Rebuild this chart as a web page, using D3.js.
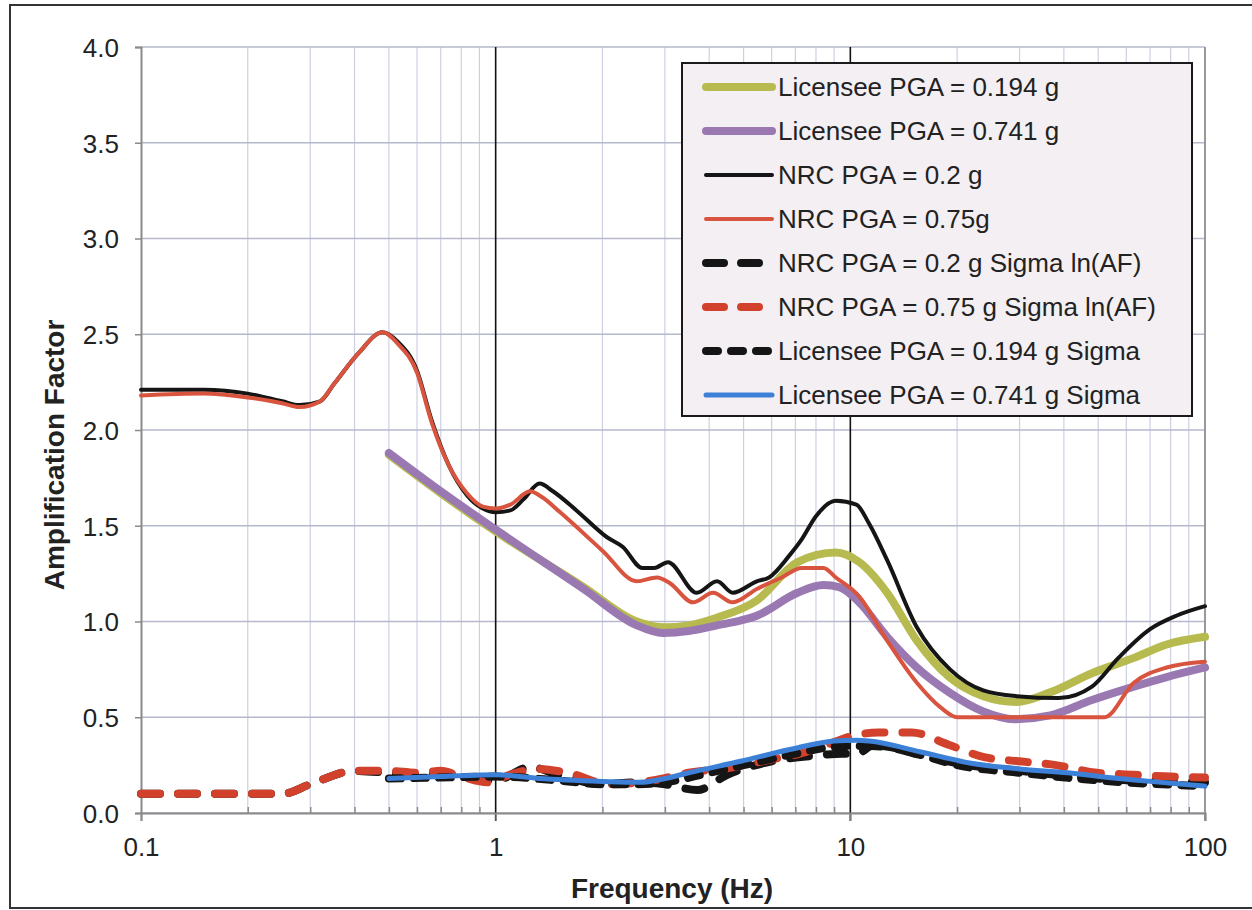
<!DOCTYPE html>
<html>
<head>
<meta charset="utf-8">
<script src="https://cdn.jsdelivr.net/npm/d3@7"></script>
<style>
  body { margin: 0; background: #fff; }
  text { font-family: "Liberation Sans", Arial, Helvetica, sans-serif; fill: #222; }
</style>
</head>
<body>
<svg id="chart"></svg>
<script>
/* data: frequency (Hz) and amplification factor */
var licLowFreq = [0.5, 0.7, 1.0, 1.77, 2.5, 3.0, 3.5, 4.2, 5.45, 7.1, 9.1, 10.6, 12.7, 15.4, 19, 23.7, 29.4, 36.6, 48, 63, 78, 100];
var licLowAmp  = [1.87, 1.67, 1.47, 1.18, 1.00, 0.97, 0.98, 1.02, 1.11, 1.31, 1.36, 1.31, 1.15, 0.90, 0.71, 0.61, 0.58, 0.63, 0.73, 0.81, 0.88, 0.92];

var licHighFreq = [0.5, 0.7, 1.0, 1.77, 2.5, 2.96, 3.5, 4.2, 5.45, 7.1, 8.4, 9.3, 10.6, 12.7, 15.4, 19, 23.7, 29, 36.6, 48, 63, 78, 100];
var licHighAmp  = [1.88, 1.68, 1.48, 1.17, 0.98, 0.94, 0.95, 0.98, 1.03, 1.15, 1.19, 1.18, 1.10, 0.92, 0.76, 0.63, 0.53, 0.49, 0.51, 0.59, 0.66, 0.71, 0.76];

var nrcLowFreq = [0.1, 0.15, 0.2, 0.25, 0.28, 0.32, 0.35, 0.41, 0.48, 0.53, 0.6, 0.66, 0.74, 0.83, 0.92, 1.0, 1.1, 1.2, 1.33, 1.45, 1.69, 2.06, 2.28, 2.59, 2.8, 3.06, 3.69, 4.21, 4.66, 5.45, 5.9, 6.7, 7.3, 8.0, 9.1, 10.4, 11.3, 12.7, 15.4, 19.1, 23.7, 29.4, 38.7, 48, 57, 70, 83, 100];
var nrcLowAmp  = [2.21, 2.21, 2.19, 2.15, 2.13, 2.15, 2.24, 2.40, 2.51, 2.46, 2.31, 2.05, 1.81, 1.66, 1.59, 1.57, 1.58, 1.64, 1.72, 1.68, 1.58, 1.44, 1.39, 1.28, 1.28, 1.31, 1.15, 1.21, 1.15, 1.21, 1.23, 1.34, 1.43, 1.55, 1.63, 1.61, 1.51, 1.32, 0.97, 0.75, 0.64, 0.61, 0.60, 0.66, 0.81, 0.96, 1.03, 1.08];

var nrcHighFreq = [0.1, 0.15, 0.2, 0.25, 0.28, 0.32, 0.35, 0.41, 0.48, 0.53, 0.6, 0.66, 0.74, 0.83, 0.92, 1.0, 1.1, 1.25, 1.35, 1.52, 2.0, 2.5, 2.85, 3.1, 3.6, 4.1, 4.66, 5.45, 6.4, 7.3, 8.4, 9.1, 10.6, 12.7, 15.4, 18, 20, 52, 63, 78, 100];
var nrcHighAmp  = [2.18, 2.19, 2.17, 2.14, 2.12, 2.15, 2.24, 2.40, 2.51, 2.45, 2.30, 2.04, 1.81, 1.67, 1.60, 1.59, 1.61, 1.68, 1.65, 1.57, 1.37, 1.21, 1.23, 1.20, 1.10, 1.15, 1.10, 1.17, 1.23, 1.28, 1.28, 1.23, 1.13, 0.90, 0.68, 0.55, 0.50, 0.50, 0.68, 0.76, 0.79];

var nrcLowSigFreq = [0.1, 0.25, 0.3, 0.4, 0.5, 0.6, 0.7, 0.8, 1.0, 1.25, 1.5, 2.0, 2.5, 3.0, 3.7, 4.5, 6, 8, 9.5, 10.5, 11.5, 13, 16, 20, 30, 50, 100];
var nrcLowSigAmp  = [0.10, 0.10, 0.15, 0.22, 0.21, 0.20, 0.21, 0.19, 0.17, 0.24, 0.20, 0.15, 0.16, 0.15, 0.12, 0.20, 0.27, 0.30, 0.31, 0.31, 0.35, 0.34, 0.30, 0.26, 0.22, 0.18, 0.16];

var nrcHighSigFreq = [0.1, 0.25, 0.3, 0.4, 0.5, 0.6, 0.7, 0.8, 0.95, 1.1, 1.3, 1.6, 2.1, 2.77, 3.5, 4.7, 6, 7.2, 9, 10, 12, 14.9, 19, 24, 30, 38, 49.5, 63, 80, 100];
var nrcHighSigAmp  = [0.10, 0.10, 0.15, 0.22, 0.22, 0.21, 0.22, 0.19, 0.16, 0.20, 0.23, 0.21, 0.15, 0.17, 0.21, 0.24, 0.28, 0.31, 0.37, 0.40, 0.42, 0.42, 0.355, 0.29, 0.27, 0.25, 0.21, 0.20, 0.19, 0.185];

var licLowSigFreq = [0.5, 0.7, 1.0, 1.5, 2.0, 2.5, 3.0, 4, 5, 7, 8.5, 10, 12, 16, 20, 30, 50, 100];
var licLowSigAmp  = [0.18, 0.185, 0.19, 0.17, 0.15, 0.15, 0.16, 0.21, 0.25, 0.31, 0.34, 0.35, 0.35, 0.30, 0.25, 0.21, 0.17, 0.14];

var licHighSigFreq = [0.5, 0.7, 1.0, 1.33, 2.0, 2.55, 3.0, 3.5, 4.9, 6.7, 9.0, 10.4, 11.3, 15.7, 21.9, 30, 41, 57, 79, 100];
var licHighSigAmp  = [0.18, 0.19, 0.20, 0.18, 0.165, 0.16, 0.18, 0.21, 0.27, 0.33, 0.376, 0.38, 0.376, 0.32, 0.26, 0.23, 0.21, 0.18, 0.157, 0.14];

var yTicks = [0, 0.5, 1.0, 1.5, 2.0, 2.5, 3.0, 3.5, 4.0];
var xTicks = [0.1, 1, 10, 100];
var xTickLabels = ["0.1", "1", "10", "100"];

var seriesNames = [
  "Licensee PGA = 0.194 g",
  "Licensee PGA = 0.741 g",
  "NRC PGA = 0.2 g",
  "NRC PGA = 0.75g",
  "NRC PGA = 0.2 g Sigma ln(AF)",
  "NRC PGA = 0.75 g Sigma ln(AF)",
  "Licensee PGA = 0.194 g Sigma",
  "Licensee PGA = 0.741 g Sigma"
];

var series = [
  { name: seriesNames[0], f: licLowFreq, v: licLowAmp, color: "#b7bb4f", w: 8, dash: null },
  { name: seriesNames[1], f: licHighFreq, v: licHighAmp, color: "#9a79b2", w: 8, dash: null },
  { name: seriesNames[2], f: nrcLowFreq, v: nrcLowAmp, color: "#151515", w: 4, dash: null },
  { name: seriesNames[3], f: nrcHighFreq, v: nrcHighAmp, color: "#d9543e", w: 4, dash: null },
  { name: seriesNames[4], f: nrcLowSigFreq, v: nrcLowSigAmp, color: "#151515", w: 8, dash: "19,18" },
  { name: seriesNames[5], f: nrcHighSigFreq, v: nrcHighSigAmp, color: "#d2412b", w: 8, dash: "19,18" },
  { name: seriesNames[6], f: licLowSigFreq, v: licLowSigAmp, color: "#151515", w: 8, dash: "12,13" },
  { name: seriesNames[7], f: licHighSigFreq, v: licHighSigAmp, color: "#3d80d8", w: 5, dash: null }
];

var W = 1252, H = 910;
var margin = { top: 47, right: 47, bottom: 97, left: 141 };
var width = W - margin.left - margin.right;
var height = H - margin.top - margin.bottom;

var svg = d3.select("#chart").attr("width", W).attr("height", H);

// outer frame
svg.append("rect")
   .attr("x", 10).attr("y", 5)
   .attr("width", W + 10).attr("height", 903)
   .attr("fill", "#fff")
   .attr("stroke", "#333")
   .attr("stroke-width", 2);

var g = svg.append("g").attr("transform", `translate(${margin.left}, ${margin.top})`);

var xScale = d3.scaleLog().domain([0.1, 100]).range([0, width]);
var yScale = d3.scaleLinear().domain([0, 4]).range([height, 0]);

// minor vertical grid
var minor = [];
[0.1, 1, 10].forEach(function(dec){
    for (var k = 2; k <= 9; k++) minor.push(dec * k);
});
g.append("g").selectAll("line")
 .data(minor)
 .join("line")
 .attr("x1", d => xScale(d)).attr("x2", d => xScale(d))
 .attr("y1", 0).attr("y2", height)
 .attr("stroke", "#cdd0e2")
 .attr("stroke-width", 1.2);

// horizontal grid
g.append("g").selectAll("line")
 .data(yTicks)
 .join("line")
 .attr("x1", 0).attr("x2", width)
 .attr("y1", d => yScale(d)).attr("y2", d => yScale(d))
 .attr("stroke", "#b6b9cc")
 .attr("stroke-width", 1.6);

// major decade lines
g.append("g").selectAll("line")
 .data([1, 10])
 .join("line")
 .attr("x1", d => xScale(d)).attr("x2", d => xScale(d))
 .attr("y1", 0).attr("y2", height + 8)
 .attr("stroke", "#111")
 .attr("stroke-width", 1.6);

// right edge
g.append("line")
 .attr("x1", width).attr("x2", width)
 .attr("y1", 0).attr("y2", height + 8)
 .attr("stroke", "#999")
 .attr("stroke-width", 2);

// axes
var yAxis = g.append("g")
   .call(d3.axisLeft(yScale).tickValues(yTicks).tickFormat(d3.format(".1f")).tickSize(6).tickPadding(16));
yAxis.select(".domain").attr("stroke", "#8a8a8a").attr("stroke-width", 2);
yAxis.selectAll(".tick line").attr("stroke", "#8a8a8a").attr("stroke-width", 1.5);
yAxis.selectAll("text").style("font-size", "26px").attr("fill", "#222").attr("dy", "0.36em");

var xAxis = g.append("g")
   .attr("transform", `translate(0, ${height})`)
   .call(d3.axisBottom(xScale).tickValues(xTicks).tickFormat((d, i) => xTickLabels[i]).tickSize(8).tickPadding(17));
xAxis.select(".domain").attr("stroke", "#8a8a8a").attr("stroke-width", 2);
xAxis.selectAll(".tick line").attr("stroke", "#8a8a8a").attr("stroke-width", 1.5);
xAxis.selectAll("text").style("font-size", "26px").attr("fill", "#222");

var xMinorAxis = g.append("g")
   .attr("transform", `translate(0, ${height})`)
   .call(d3.axisBottom(xScale).tickValues(minor).tickFormat("").tickSize(-6));
xMinorAxis.select(".domain").remove();
xMinorAxis.selectAll(".tick line").attr("stroke", "#8a8a8a").attr("stroke-width", 1.5);

// axis titles
svg.append("text")
   .attr("x", 672).attr("y", 898)
   .attr("text-anchor", "middle")
   .style("font-size", "28px").style("font-weight", "bold")
   .text("Frequency (Hz)");

svg.append("text")
   .attr("transform", "translate(64, 455) rotate(-90)")
   .attr("text-anchor", "middle")
   .style("font-size", "28px").style("font-weight", "bold")
   .text("Amplification Factor");

// curves
var line = d3.line()
   .x(d => xScale(d[0]))
   .y(d => yScale(d[1]))
   .curve(d3.curveMonotoneX);

var curves = g.append("g");
series.forEach(function(s){
    var pts = s.f.map((f, i) => [f, s.v[i]]);
    curves.append("path")
          .datum(pts)
          .attr("d", line)
          .attr("fill", "none")
          .attr("stroke", s.color)
          .attr("stroke-width", s.w)
          .attr("stroke-linecap", "round")
          .attr("stroke-linejoin", "round")
          .attr("stroke-dasharray", s.dash);
});

// legend
var legend = svg.append("g").attr("transform", "translate(682, 63)");
legend.append("rect")
      .attr("width", 510).attr("height", 353)
      .attr("fill", "#f3eff3")
      .attr("stroke", "#1a1a1a")
      .attr("stroke-width", 2);

var legendDash = ["", "", "", "", "18,17", "18,17", "12,13", ""];
var legendEnd  = [90, 90, 90, 90, 77, 77, 87, 90];
var rows = legend.selectAll("g.row")
      .data(series)
      .join("g")
      .attr("class", "row")
      .attr("transform", (d, i) => `translate(0, ${24 + i * 44})`);

rows.append("line")
    .attr("x1", 24).attr("x2", (d, i) => legendEnd[i])
    .attr("stroke", d => d.color)
    .attr("stroke-width", d => d.w)
    .attr("stroke-linecap", "round")
    .attr("stroke-dasharray", (d, i) => legendDash[i] || null);

rows.append("text")
    .attr("x", 96).attr("dy", "0.36em")
    .style("font-size", "26px")
    .text(d => d.name);
</script>
</body>
</html>
